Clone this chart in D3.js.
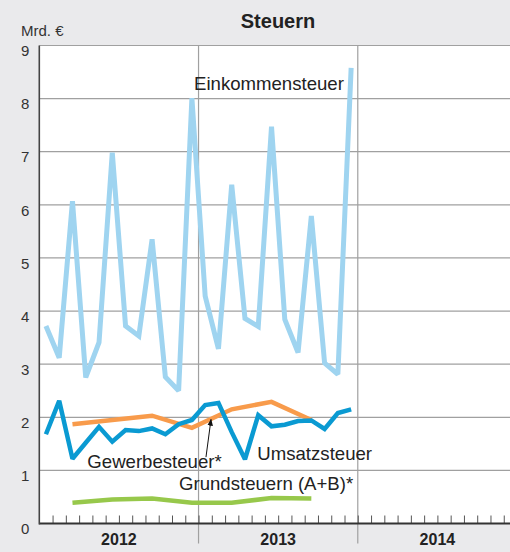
<!DOCTYPE html>
<html>
<head>
<meta charset="utf-8">
<script src="https://cdn.jsdelivr.net/npm/d3@7"></script>
<style>
  body { margin: 0; background: #eaeaec; }
  svg { display: block; font-family: "Liberation Sans", Arial, sans-serif; }
</style>
</head>
<body>
<div id="chart"></div>
<script>
// monthly values, Jan 2012 .. Dec 2013 (Mrd. €)
var einkommen = [3.72, 3.12, 6.07, 2.75, 3.41, 6.98, 3.72, 3.53, 5.35, 2.76, 2.50, 8.01,
                 4.28, 3.29, 6.38, 3.86, 3.71, 7.47, 3.84, 3.22, 5.79, 3.02, 2.81, 8.58];
var umsatz = [1.68, 2.31, 1.22, 1.52, 1.82, 1.54, 1.76, 1.74, 1.79, 1.68, 1.87, 1.95,
              2.23, 2.27, 1.72, 1.21, 2.04, 1.83, 1.86, 1.93, 1.94, 1.78, 2.08, 2.15];
// quarterly values (Mar, Jun, Sep, Dec ...)
var quarterMonths = [2, 5, 8, 11, 14, 17, 20];
var gewerbe = [1.87, 1.95, 2.03, 1.80, 2.15, 2.29, 1.95];
var grund = [0.39, 0.45, 0.47, 0.39, 0.39, 0.48, 0.47];

var years = ['2012', '2013', '2014'];
var yTicks = [0, 1, 2, 3, 4, 5, 6, 7, 8, 9];

var width = 510, height = 552;
var margin = {left: 39.3, top: 45.5, bottom: 28.5};

var svg = d3.select('#chart').append('svg')
  .attr('width', width)
  .attr('height', height);

var x = d3.scaleLinear().domain([0, 36]).range([margin.left, margin.left + 36 * 13.27]);
var y = d3.scaleLinear().domain([0, 9]).range([height - margin.bottom, margin.top]);

// plot background
svg.append('rect')
  .attr('x', x(0)).attr('y', y(9))
  .attr('width', width - x(0)).attr('height', y(0) - y(9))
  .attr('fill', '#fff');

// horizontal grid
svg.append('g').selectAll('line')
  .data(yTicks.slice(1))
  .enter().append('line')
  .attr('x1', x(0)).attr('x2', width)
  .attr('y1', function(d){ return y(d); }).attr('y2', function(d){ return y(d); })
  .attr('stroke', '#a0a0a0').attr('stroke-width', 1.2);

// year separators
svg.append('g').selectAll('line')
  .data([12, 24])
  .enter().append('line')
  .attr('x1', function(d){ return x(d); }).attr('x2', function(d){ return x(d); })
  .attr('y1', y(9)).attr('y2', y(0) + 20)
  .attr('stroke', '#a0a0a0').attr('stroke-width', 1.2);

// month ticks
var xAxis = d3.axisBottom(x)
  .tickValues(d3.range(1, 38))
  .tickSize(-8)
  .tickFormat('');
var gx = svg.append('g')
  .attr('transform', 'translate(0,' + y(0) + ')')
  .call(xAxis);
gx.select('.domain').remove();
gx.selectAll('line').attr('stroke', '#555').attr('stroke-width', 1);

// axis lines
svg.append('line')
  .attr('x1', x(0)).attr('x2', width)
  .attr('y1', y(0)).attr('y2', y(0))
  .attr('stroke', '#333').attr('stroke-width', 2);
svg.append('line')
  .attr('x1', x(0)).attr('x2', x(0))
  .attr('y1', y(9)).attr('y2', y(0) + 1)
  .attr('stroke', '#444').attr('stroke-width', 1.6);

// y labels
var yAxis = d3.axisLeft(y).tickValues(yTicks).tickSize(0).tickPadding(10);
var gy = svg.append('g')
  .attr('transform', 'translate(' + x(0) + ',0)')
  .call(yAxis);
gy.select('.domain').remove();
gy.selectAll('text')
  .attr('font-size', 15).attr('fill', '#333')
  .attr('font-family', '"Liberation Sans", Arial, sans-serif')
  .attr('dy', '0.68em');

// year labels
svg.append('g').selectAll('text')
  .data(years)
  .enter().append('text')
  .attr('x', function(d, i){ return x(i * 12 + 6); })
  .attr('y', 545)
  .attr('text-anchor', 'middle')
  .attr('font-size', 16).attr('font-weight', 'bold').attr('fill', '#222')
  .text(function(d){ return d; });

// title + unit
svg.append('text')
  .attr('x', 278).attr('y', 28)
  .attr('text-anchor', 'middle')
  .attr('font-size', 20).attr('font-weight', 'bold').attr('fill', '#222')
  .text('Steuern');
svg.append('text')
  .attr('x', 21).attr('y', 36)
  .attr('font-size', 15).attr('fill', '#333')
  .text('Mrd. €');

var line = d3.line()
  .x(function(d){ return x(d[0] + 0.5); })
  .y(function(d){ return y(d[1]); });

var series = [
  {values: einkommen.map(function(v, i){ return [i, v]; }), color: '#9fd4f0', w: 5},
  {values: grund.map(function(v, i){ return [quarterMonths[i], v]; }), color: '#97c84b', w: 4.5},
  {values: gewerbe.map(function(v, i){ return [quarterMonths[i], v]; }), color: '#f89b4b', w: 4.5},
  {values: umsatz.map(function(v, i){ return [i, v]; }), color: '#0a9ad2', w: 4.5}
];

svg.append('g').selectAll('path')
  .data(series)
  .enter().append('path')
  .attr('d', function(d){ return line(d.values); })
  .attr('fill', 'none')
  .attr('stroke', function(d){ return d.color; })
  .attr('stroke-width', function(d){ return d.w; })
  .attr('stroke-linejoin', 'miter')
  .attr('stroke-miterlimit', 2);

// labels (month index, value)
var labels = [
  {text: 'Einkommensteuer', m: 11.66, v: 8.16},
  {text: 'Umsatzsteuer', m: 16.43, v: 1.20},
  {text: 'Gewerbesteuer*', m: 3.62, v: 1.04},
  {text: 'Grundsteuern (A+B)*', m: 10.53, v: 0.64}
];
svg.append('g').selectAll('text')
  .data(labels)
  .enter().append('text')
  .attr('x', function(d){ return x(d.m); })
  .attr('y', function(d){ return y(d.v); })
  .attr('font-size', 18.6).attr('fill', '#222')
  .text(function(d){ return d.text; });

// arrow to Gewerbesteuer
svg.append('defs').append('marker')
  .attr('id', 'arr')
  .attr('viewBox', '0 0 10 10')
  .attr('refX', 9).attr('refY', 5)
  .attr('markerWidth', 7).attr('markerHeight', 7)
  .attr('orient', 'auto')
  .append('path')
  .attr('d', 'M0,1 L10,5 L0,9 Z')
  .attr('fill', '#111');
svg.append('line')
  .attr('x1', x(12.56)).attr('y1', y(1.25))
  .attr('x2', x(12.94)).attr('y2', y(1.96))
  .attr('stroke', '#111').attr('stroke-width', 1)
  .attr('marker-end', 'url(#arr)');
</script>
</body>
</html>
